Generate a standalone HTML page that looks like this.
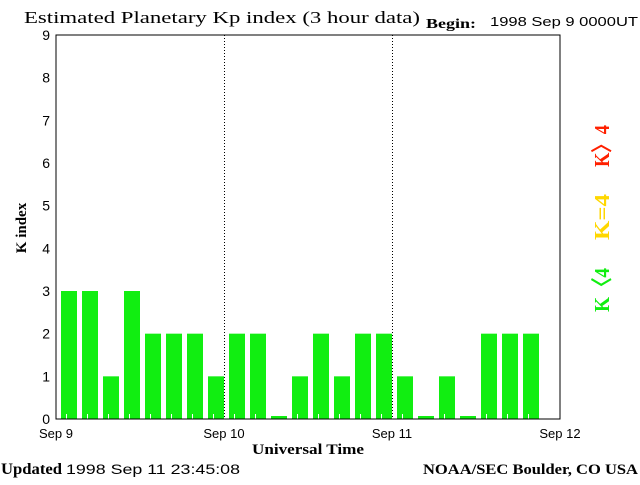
<!DOCTYPE html>
<html><head><meta charset="utf-8"><style>
body{margin:0;background:#fff;width:640px;height:480px;overflow:hidden}
svg text{font-family:"Liberation Sans",sans-serif}
</style></head><body>
<svg width="640" height="480" viewBox="0 0 640 480">
<text x="24" y="23" font-size="17" textLength="396" lengthAdjust="spacingAndGlyphs" style="font-family:'Liberation Serif',serif">Estimated Planetary Kp index (3 hour data)</text>
<text x="426" y="28" font-size="14" font-weight="bold" textLength="50" lengthAdjust="spacingAndGlyphs" style="font-family:'Liberation Serif',serif">Begin:</text>
<text x="490" y="26" font-size="13" textLength="148" lengthAdjust="spacingAndGlyphs">1998 Sep 9 0000UT</text>
<g id="bars"></g>
<rect x="56" y="35" width="504" height="384" fill="none" stroke="#000" stroke-width="1"/>
<line x1="224.5" y1="35" x2="224.5" y2="419" stroke="#000" stroke-dasharray="1,2"/>
<line x1="392.5" y1="35" x2="392.5" y2="419" stroke="#000" stroke-dasharray="1,2"/>
<g id="yticks"></g>
<g id="xticks"></g>
<text x="26" y="228" font-size="15" font-weight="bold" transform="rotate(-90 26 228)" text-anchor="middle" style="font-family:'Liberation Serif',serif">K index</text>
<text x="308" y="454" font-size="15" font-weight="bold" text-anchor="middle" textLength="112" lengthAdjust="spacingAndGlyphs" style="font-family:'Liberation Serif',serif">Universal Time</text>
<text x="609" y="312" font-size="21" font-weight="bold" fill="#11ee11" transform="rotate(-90 609 312)" textLength="44" lengthAdjust="spacingAndGlyphs" style="font-family:'Liberation Serif',serif">K〈4</text>
<text x="609" y="240" font-size="21" font-weight="bold" fill="#ffd700" transform="rotate(-90 609 240)" textLength="46" lengthAdjust="spacingAndGlyphs" style="font-family:'Liberation Serif',serif">K=4</text>
<text x="609" y="167" font-size="21" font-weight="bold" fill="#ff2000" transform="rotate(-90 609 167)" textLength="42" lengthAdjust="spacingAndGlyphs" style="font-family:'Liberation Serif',serif">K〉4</text>
<text x="1" y="474" font-size="16" font-weight="bold" textLength="61" lengthAdjust="spacingAndGlyphs" style="font-family:'Liberation Serif',serif">Updated</text>
<text x="66" y="474" font-size="14" textLength="174" lengthAdjust="spacingAndGlyphs">1998 Sep 11 23:45:08</text>
<text x="423" y="474" font-size="15" font-weight="bold" textLength="215" lengthAdjust="spacingAndGlyphs" style="font-family:'Liberation Serif',serif">NOAA/SEC Boulder, CO USA</text>
</svg>
<script>
const kpValues=[3,3,1,3,2,2,2,1, 2,2,0,1,2,1,2,2, 1,0,1,0,2,2,2];
const yTickLabels=[0,1,2,3,4,5,6,7,8,9];
const xTickLabels=["Sep 9","Sep 10","Sep 11","Sep 12"];
const NS="http://www.w3.org/2000/svg";
const x0=56,slot=21,y0=419,unit=(419-35)/9;
const ys=v=>y0-v*unit;
const xs=i=>x0+i*slot;
const bars=document.getElementById('bars');
kpValues.forEach((v,i)=>{
  const r=document.createElementNS(NS,'rect');
  const top=v>0?ys(v):y0-3;
  const col=v<4?'#11ee11':(v==4?'#ffd700':'#ff2000');
  r.setAttribute('x',xs(i)+5);r.setAttribute('y',top);
  r.setAttribute('width',16);r.setAttribute('height',y0-top);
  r.setAttribute('fill',col);
  
  
  bars.appendChild(r);
  if(v>0){
    const t=document.createElementNS(NS,'line');
    t.setAttribute('x1',xs(i)+10.5);t.setAttribute('x2',xs(i)+10.5);
    t.setAttribute('y1',y0-5);t.setAttribute('y2',y0);
    t.setAttribute('stroke','#fff');
    
    
    bars.appendChild(t);
  }
});
const yt=document.getElementById('yticks');
yTickLabels.forEach(v=>{
  const t=document.createElementNS(NS,'text');
  t.setAttribute('x',50);t.setAttribute('y',ys(v)+5);
  t.setAttribute('text-anchor','end');t.setAttribute('font-size','14');
  t.textContent=v;
  
  
  yt.appendChild(t);
});
const xt=document.getElementById('xticks');
xTickLabels.forEach((s,i)=>{
  const t=document.createElementNS(NS,'text');
  t.setAttribute('x',x0+i*168);t.setAttribute('y',438);
  t.setAttribute('text-anchor','middle');t.setAttribute('font-size','13');
  t.textContent=s;
  
  
  xt.appendChild(t);
});
</script>
</body></html>
